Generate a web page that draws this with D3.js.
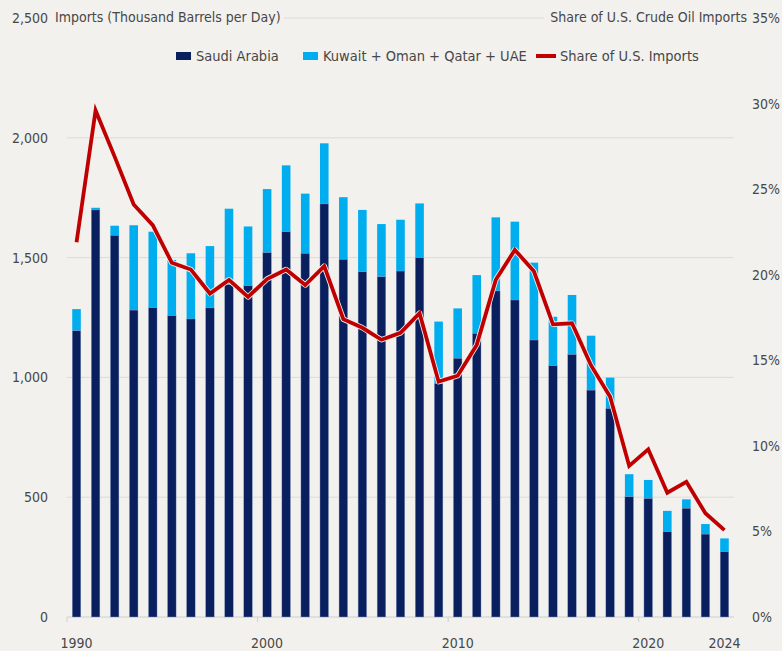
<!DOCTYPE html>
<html>
<head>
<meta charset="utf-8">
<script src="https://cdn.jsdelivr.net/npm/d3@7"></script>
<style>
  body { margin: 0; background: #f2f1ee; }
  svg { display: block; font-family: "DejaVu Sans Condensed", "Liberation Sans Narrow", "Roboto", sans-serif; }
  .lbl { fill: #474747; font-size: 14px; }
  .leg { fill: #474747; font-size: 14.5px; }
</style>
</head>
<body>
<div id="chart"></div>
<script>
var years = d3.range(1990, 2025);
var saudi = [1195, 1699, 1593, 1281, 1291, 1258, 1244, 1290, 1387, 1383,
             1521, 1608, 1518, 1724, 1493, 1441, 1420, 1444, 1500, 975,
             1080, 1184, 1361, 1323, 1156, 1049, 1096, 947, 871, 502,
             495, 356, 454, 346, 273];
var totals = [1285, 1708, 1633, 1635, 1608, 1490, 1518, 1548, 1704, 1630,
              1786, 1885, 1767, 1977, 1752, 1699, 1640, 1658, 1726, 1233,
              1288, 1427, 1668, 1650, 1479, 1253, 1344, 1174, 999, 596,
              572, 443, 491, 388, 328];
var share = [21.9, 29.6, 26.9, 24.1, 22.9, 20.7, 20.3, 18.9, 19.7, 18.7,
             19.75, 20.3, 19.4, 20.5, 17.4, 16.9, 16.2, 16.6, 17.75, 13.75,
             14.1, 15.9, 19.7, 21.45, 20.2, 17.1, 17.16, 14.7, 12.87, 8.83,
             9.8, 7.26, 7.9, 6.06, 5.08];
var leftTicks = [0, 500, 1000, 1500, 2000, 2500];
var rightTicks = [0, 5, 10, 15, 20, 25, 30, 35];
var xLabels = [1990, 2000, 2010, 2020, 2024];
var xTickYears = [1990, 2000, 2010, 2020];

var W = 782, H = 651,
    plotLeft = 67, plotRight = 734, plotTop = 18, plotBottom = 617;

var navy = "#0a1f5e", sky = "#00aeef", red = "#c00000";

var svg = d3.select("#chart").append("svg")
    .attr("width", W)
    .attr("height", H);

var x = d3.scaleBand()
    .domain(years)
    .range([plotLeft, plotRight])
    .paddingInner(0.55)
    .paddingOuter(0.275);

var xYear = d3.scaleLinear().domain([1990, 2025]).range([plotLeft, plotRight]);

var y = d3.scaleLinear().domain([0, 2500]).range([plotBottom, plotTop]);
var y2 = d3.scaleLinear().domain([0, 35]).range([plotBottom, plotTop]);

// gridlines (500 - 2,000)
svg.append("g").selectAll("line")
    .data(leftTicks.slice(1, -1))
    .enter().append("line")
      .attr("x1", plotLeft).attr("x2", plotRight)
      .attr("y1", function(d) { return y(d); })
      .attr("y2", function(d) { return y(d); })
      .style("stroke", "#dcdbd7")
      .style("stroke-width", 1);

// top header line (2,500 gridline between the titles)
svg.append("line")
    .attr("x1", 284).attr("x2", 544)
    .attr("y1", y(2500)).attr("y2", y(2500))
    .style("stroke", "#dcdbd7");

// baseline + year ticks
svg.append("line")
    .attr("x1", plotLeft).attr("x2", plotRight)
    .attr("y1", y(0)).attr("y2", y(0))
    .style("stroke", "#cfcecb");

svg.append("g").selectAll("line")
    .data(xTickYears)
    .enter().append("line")
      .attr("x1", function(d) { return xYear(d); })
      .attr("x2", function(d) { return xYear(d); })
      .attr("y1", plotBottom).attr("y2", plotBottom + 5)
      .style("stroke", "#cfcecb");

// left axis labels
var gy = svg.append("g")
    .attr("transform", "translate(48,0)")
    .call(d3.axisLeft(y)
      .tickValues(leftTicks)
      .tickSize(0)
      .tickPadding(0)
      .tickFormat(d3.format(",")));
gy.select(".domain").remove();
gy.attr("font-size", null).attr("font-family", null);
gy.selectAll("text").attr("class", "lbl").attr("fill", null);

// right axis labels
var gy2 = svg.append("g")
    .attr("transform", "translate(752,0)")
    .call(d3.axisRight(y2)
      .tickValues(rightTicks)
      .tickSize(0)
      .tickPadding(0)
      .tickFormat(function(d) { return d + "%"; }));
gy2.select(".domain").remove();
gy2.attr("font-size", null).attr("font-family", null);
gy2.selectAll("text").attr("class", "lbl").attr("fill", null);

// bottom labels
var gx = svg.append("g")
    .attr("transform", "translate(0,638)")
    .call(d3.axisBottom(x)
      .tickValues(xLabels)
      .tickSize(0)
      .tickPadding(0));
gx.select(".domain").remove();
gx.attr("font-size", null).attr("font-family", null);
gx.selectAll("text").attr("class", "lbl").attr("fill", null);

// header titles
svg.append("text").attr("class", "lbl")
    .attr("x", 55).attr("y", y(2500)).attr("dy", "0.32em")
    .text("Imports (Thousand Barrels per Day)");
svg.append("text").attr("class", "lbl")
    .attr("x", 747).attr("y", y2(35)).attr("dy", "0.32em")
    .style("text-anchor", "end")
    .text("Share of U.S. Crude Oil Imports");

// bars
var bars = svg.append("g").selectAll(".yr")
    .data(years)
    .enter().append("g")
      .attr("class", "yr");

bars.append("rect")
    .attr("x", function(d) { return x(d); })
    .attr("width", x.bandwidth())
    .attr("y", function(d, i) { return y(totals[i]); })
    .attr("height", function(d, i) { return y(saudi[i]) - y(totals[i]); })
    .style("fill", sky);

bars.append("rect")
    .attr("x", function(d) { return x(d); })
    .attr("width", x.bandwidth())
    .attr("y", function(d, i) { return y(saudi[i]); })
    .attr("height", function(d, i) { return y(0) - y(saudi[i]); })
    .style("fill", navy)
    .style("stroke", "#8fa3c8")
    .style("stroke-width", 0.4);

// share line
var line = d3.line()
    .x(function(d, i) { return x(years[i]) + x.bandwidth() / 2; })
    .y(function(d) { return y2(d); });

svg.append("path")
    .datum(share)
    .attr("d", line)
    .style("fill", "none")
    .style("stroke", "#f2f1ee")
    .style("stroke-width", 5.5)
    .style("stroke-linejoin", "round");

svg.append("path")
    .datum(share)
    .attr("d", line)
    .style("fill", "none")
    .style("stroke", red)
    .style("stroke-width", 3.8)
    .style("stroke-linejoin", "miter");

// legend
var legend = svg.append("g").attr("transform", "translate(0,56)");
legend.append("rect").attr("x", 176).attr("y", -4).attr("width", 15).attr("height", 8).style("fill", navy);
legend.append("text").attr("class", "leg").attr("x", 196).attr("dy", "0.35em").text("Saudi Arabia");
legend.append("rect").attr("x", 303).attr("y", -4).attr("width", 15).attr("height", 8).style("fill", sky);
legend.append("text").attr("class", "leg").attr("x", 323).attr("dy", "0.35em").text("Kuwait + Oman + Qatar + UAE");
legend.append("line").attr("x1", 536).attr("x2", 556).attr("y1", 0).attr("y2", 0)
    .style("stroke", red).style("stroke-width", 4);
legend.append("text").attr("class", "leg").attr("x", 560).attr("dy", "0.35em").text("Share of U.S. Imports");
</script>
</body>
</html>
